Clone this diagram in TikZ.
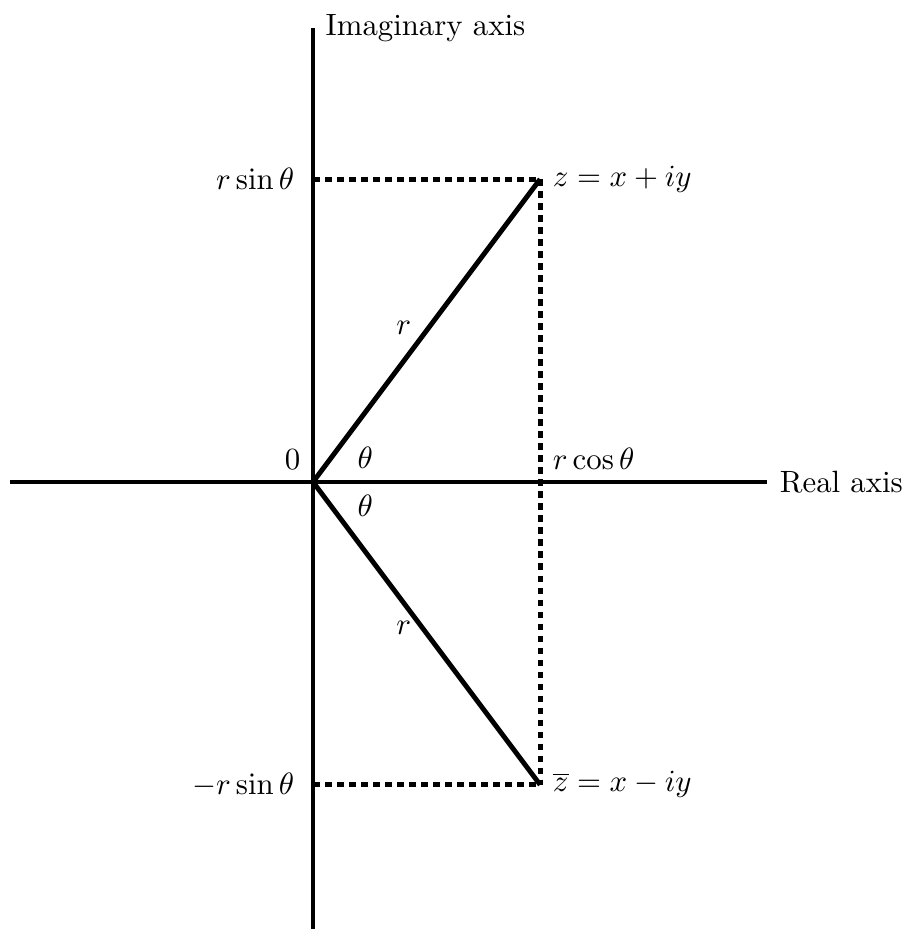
\documentclass[tikz,border=0pt]{standalone}
\usepackage{amsmath}
\usetikzlibrary{calc}

\begin{document}
\begin{tikzpicture}[x=0.864cm, y=0.864cm, line width=1.6pt,
        proj/.style={dash pattern=on 2.2pt off 1.7pt}]
        \useasboundingbox (-4.135,-5.905) rectangle (7.807,6.367);

        % 坐标轴
        \coordinate (origin) at (0,0);
        \coordinate (re_lt) at (-4,0);
        \coordinate (re_rt) at (6,0);
        \coordinate (im_bot) at (0,-6);
        \coordinate (im_top) at (0,6);
        \draw (re_lt) -- (re_rt);
        \draw (im_bot) -- (im_top);
        \node[right] (re_lbl) at (re_rt) {Real axis};
        \node[right] (im_lbl) at (im_top) {Imaginary axis};
        \node[above left] (o_lbl) at (origin) {$0$};

        % z 与共轭点
        \coordinate (z_node) at (3,4);
        \coordinate (zb_node) at (3,-4);
        \coordinate (sin_node) at (origin |- z_node);
        \coordinate (nsin_node) at (origin |- zb_node);
        \coordinate (cos_node) at (z_node |- origin);

        % 投影虚线
        \draw[proj] (sin_node) -- (z_node);
        \draw[proj] (z_node) -- (zb_node);
        \draw[proj] (nsin_node) -- (zb_node);

        % 半径 r
        \draw (origin) -- (z_node);
        \draw (origin) -- (zb_node);

        % 标注
        \node[right] (z_lbl) at (z_node) {$z = x + iy$};
        \node[right] (zb_lbl) at (zb_node) {$\overline{z} = x - iy$};
        \node[left, xshift=-2pt] (sin_lbl) at (sin_node) {$r\sin\theta$};
        \node[left, xshift=-2pt] (nsin_lbl) at (nsin_node) {$-r\sin\theta$};
        \node[above right] (cos_lbl) at (cos_node) {$r\cos\theta$};
        \node (th_up) at (0.69,0.32) {$\theta$};
        \node (th_dn) at (0.69,-0.32) {$\theta$};
        \node (r_up) at (1.2,2.03) {$r$};
        \node (r_dn) at (1.2,-1.93) {$r$};
    \end{tikzpicture}
\end{document}
